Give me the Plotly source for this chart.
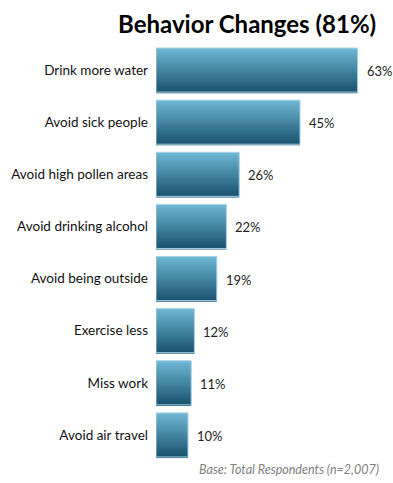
import plotly.graph_objects as go

categories = ["Drink more water", "Avoid sick people", "Avoid high pollen areas",
              "Avoid drinking alcohol", "Avoid being outside", "Exercise less",
              "Miss work", "Avoid air travel"]
values = [63, 45, 26, 22, 19, 12, 11, 10]
title_text = "Behavior Changes (81%)"
footnote = "Base: Total Respondents (n=2,007)"

FONT = "Lato, 'Open Sans', sans-serif"
top_rgb = (110, 182, 212)
bot_rgb = (26, 84, 112)
N = 24
bar_w = 0.845
step = bar_w / N

L, R, T, B = 156, 13, 44, 22
W, H = 393, 483

fig = go.Figure()
for i in range(N):
    t = i / (N - 1)
    c = tuple(round(top_rgb[k] + (bot_rgb[k] - top_rgb[k]) * t) for k in range(3))
    fig.add_trace(go.Bar(
        x=values, y=categories, orientation="h",
        width=step * 1.6, offset=-bar_w / 2 + i * step,
        marker=dict(color="rgb(%d,%d,%d)" % c, line=dict(width=0)),
        hoverinfo="skip", showlegend=False,
    ))
# outline
fig.add_trace(go.Bar(
    x=values, y=categories, orientation="h",
    width=bar_w, offset=-bar_w / 2,
    marker=dict(color="rgba(0,0,0,0)", line=dict(color="#a8d2e4", width=1)),
    showlegend=False,
))

pw = W - L - R
ph = H - T - B

def px_to_paper(x, y):
    return (x - L) / pw, (H - B - y) / ph

anns = []
for cat, v in zip(categories, values):
    anns.append(dict(x=v, y=cat, xref="x", yref="y", text=f"{v}%", showarrow=False,
                     xanchor="left", yanchor="middle", xshift=7, yshift=-1,
                     font=dict(family=FONT, size=13, color="#222")))
tx, ty = px_to_paper(247, 23)
anns.append(dict(text="<b>%s</b>" % title_text, x=tx, y=ty, xref="paper", yref="paper",
                 showarrow=False, font=dict(family=FONT, size=24, color="#000"),
                 xanchor="center", yanchor="middle"))
fx, fy = px_to_paper(381, 469)
anns.append(dict(text="<i>%s</i>" % footnote, x=fx, y=fy, xref="paper", yref="paper",
                 xanchor="right", yanchor="middle", showarrow=False,
                 font=dict(family=FONT, size=12.5, color="#7f7f7f")))

fig.update_layout(
    barmode="overlay",
    width=W, height=H,
    margin=dict(l=L, r=R, t=T, b=B, autoexpand=False),
    paper_bgcolor="white", plot_bgcolor="white",
    font=dict(family=FONT, color="#111"),
    xaxis=dict(range=[0, 70], visible=False, zeroline=False, showgrid=False, fixedrange=True),
    yaxis=dict(showline=False, showgrid=False, zeroline=False, automargin=False,
               ticks="", ticklabelstandoff=7, fixedrange=True,
               tickfont=dict(family=FONT, size=13.5, color="#111"),
               range=[7.5, -0.5]),
    annotations=anns,
)
fig.write_html("out.html", config={"displayModeBar": False},
               post_script="document.body.style.margin='0px';")
